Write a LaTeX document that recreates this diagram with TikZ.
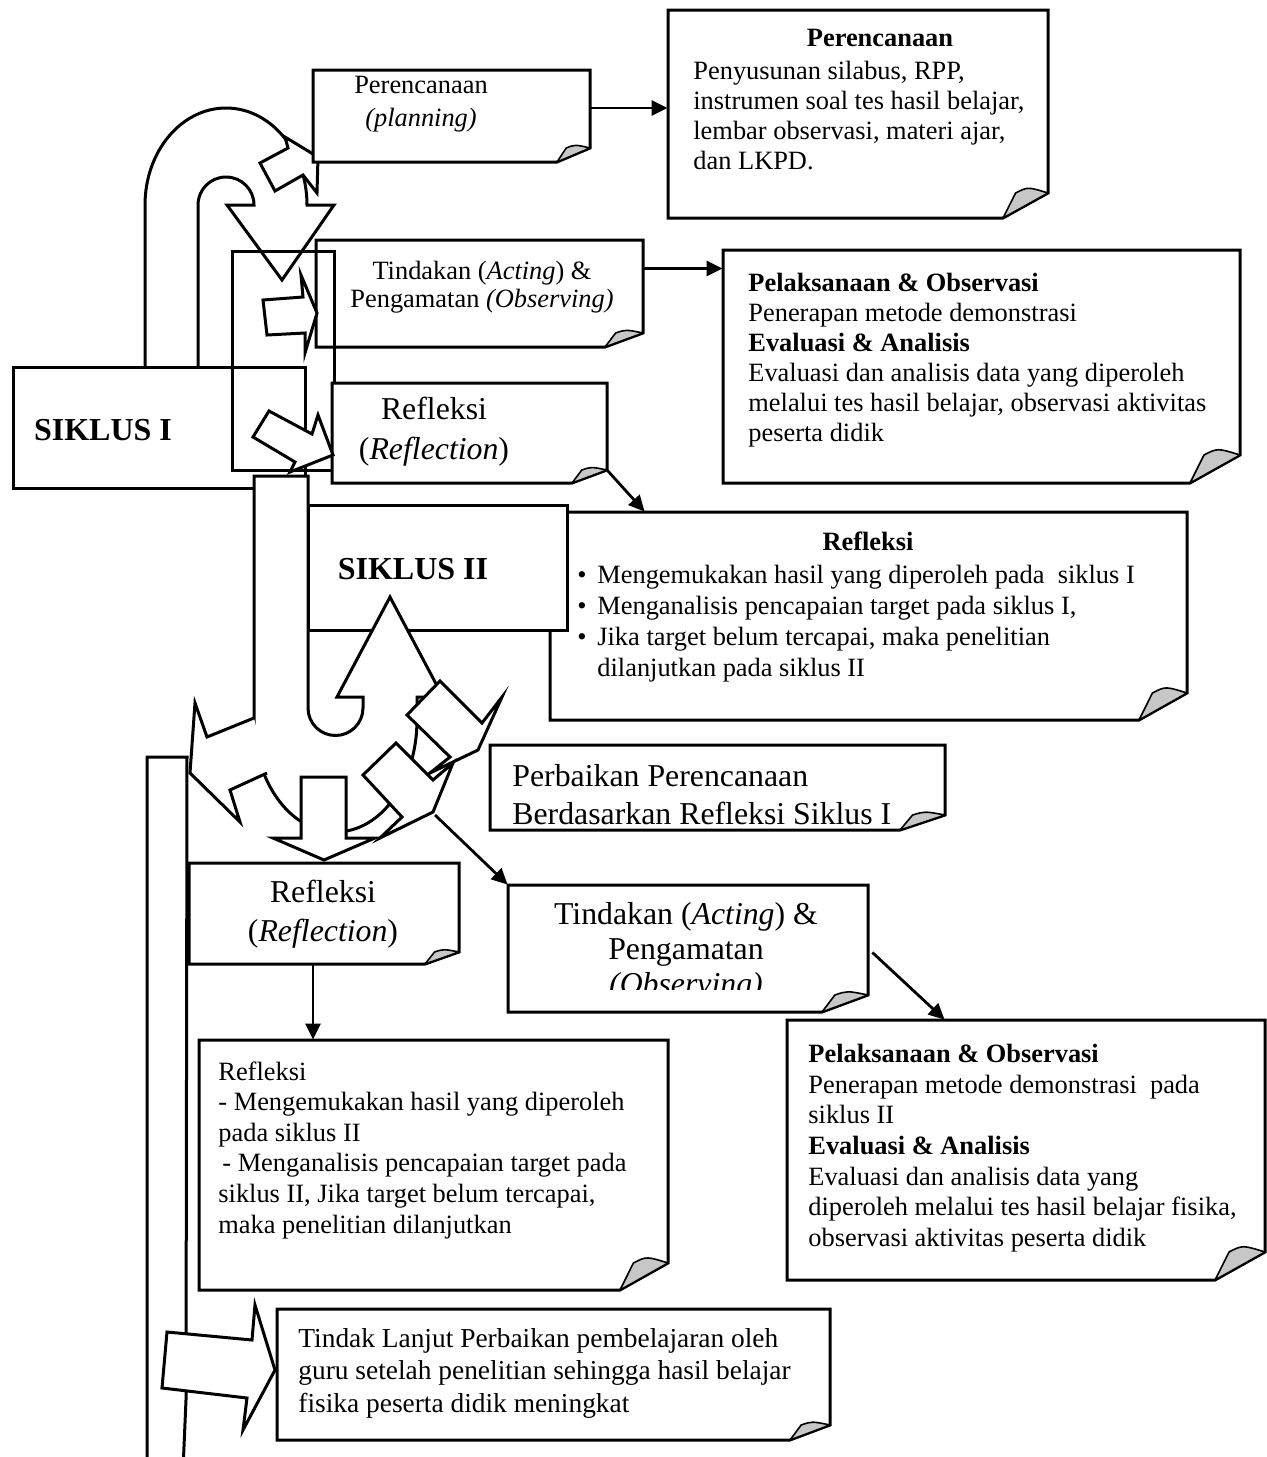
\documentclass[tikz,border=0pt]{standalone}
\usepackage{fontspec}
\setmainfont{Liberation Serif}
\usetikzlibrary{arrows.meta,fit}
\newcommand\fsN{\fontsize{13.2}{15.3}\selectfont}
\newcommand\fsB{\fontsize{15.9}{19.5}\selectfont}
\newcommand\fsS{\fontsize{16}{19}\selectfont\bfseries}
\newcommand\bl{\makebox[10pt][l]{\textbullet}}
\newcommand\foldbox[7]{%
  \path[bx] (#2,#3) -- (#4,#3) -- (#4,{#5-#6}) -- ({#4-#7},#5) -- (#2,#5) -- cycle;
  \path[curl] ({#4-#7},#5) -- ({#4-0.72*#7},{#5-#6}) .. controls ({#4-0.45*#7},{#5-1.25*#6}) .. (#4,{#5-#6}) -- cycle;
  \coordinate (#1-nw) at (#2,#3); \coordinate (#1-se) at (#4,#5);
  \node[fit=(#1-nw)(#1-se),inner sep=0pt] (#1) {};}
\newcommand\plainbox[5]{%
  \path[bx] (#2,#3) rectangle (#4,#5);
  \coordinate (#1-nw) at (#2,#3); \coordinate (#1-se) at (#4,#5);
  \node[fit=(#1-nw)(#1-se),inner sep=0pt] (#1) {};}
\begin{document}
\begin{tikzpicture}[x=0.5pt,y=-0.5pt,line join=miter,
  bx/.style={draw,line width=1.5pt,fill=white},
  onl/.style={draw,line width=1.5pt},
  blk/.style={draw,line width=1.5pt,fill=white},
  curl/.style={draw,line width=0.8pt,fill=black!22,line join=round},
  con/.style={draw,line width=1.4pt,-{Triangle[length=8pt,width=7.5pt]}},
  tx/.style={inner sep=0pt,font=\fsN,align=left,anchor=north west},
  txc/.style={inner sep=0pt,font=\fsN,align=center,anchor=north}]
\useasboundingbox (0,0) rectangle (1266,1457);

% tall left frame
\path[onl] (147,1470) -- (147,757) -- (187,757) -- (186,1400) -- (183,1470);

% top U-turn arrow
\path[blk] (145,367) -- (145,205) .. controls (145,151.4) and (181.3,108) .. (226,108)
  .. controls (270.7,108) and (307,151.4) .. (307,205) -- (334,205) -- (282,280) -- (227,205) -- (254,205)
  .. controls (254,189.5) and (241.5,177) .. (226,177) .. controls (210.5,177) and (198,189.5) .. (198,205) -- (198,367);
% small arrow towards planning box (mostly hidden)
\path[blk] (260,163) -- (288,148) -- (285,137) -- (318,157) -- (317,193) -- (303,175) -- (275,191) -- cycle;

\foldbox{pl}{313}{70}{590}{162}{14}{33}
\foldbox{Pp}{668}{10}{1048}{218}{25}{45}
\plainbox{s1}{13}{367}{305}{488}
\foldbox{ta}{316}{240}{643}{347}{14}{38}
\path[onl] (232,251) rectangle (334,470);
\path[blk] (263,300) -- (303,297) -- (301,275) -- (317,313) -- (305,353) -- (305,333) -- (267,335) -- cycle;
\foldbox{ra}{332}{383}{607}{483}{13}{35}
\foldbox{pa}{723}{250}{1240}{483}{28}{50}
\path[blk] (253,437) -- (269,411) -- (312,434) -- (318,415) -- (333,455) -- (290,472) -- (295,462) -- cycle;

\foldbox{rb}{550}{512}{1187}{720}{27}{48}
\plainbox{s2}{308}{505}{567}{630}

% J-shaped arrow
\path[blk] (254,476) -- (308,476) -- (308,708) .. controls (308,723.2) and (320.3,735.5) .. (335.5,735.5)
  .. controls (350.7,735.5) and (363,723.2) .. (363,708) -- (363,697) -- (337,697) -- (390,597) -- (443,697)
  -- (417,697) -- (417,720) .. controls (417,781.9) and (381,832) .. (335.5,832)
  .. controls (290.5,832) and (254,781.9) .. (254,720) -- cycle;
% left arrow
\path[blk] (254,718) -- (207,737) -- (195,703) -- (190,773) -- (240,822) -- (230,790) -- (267,773);
% down arrow
\path[blk] (301,777) -- (346,777) -- (346,838) -- (375,838) -- (324,860) -- (273,838) -- (301,838) -- cycle;
% diagonal arrows
\path[blk] (407,715) -- (440,681) -- (482,723) -- (502,697) -- (478,750) -- (430,773) -- (450,757) -- cycle;
\path[blk] (363,775) -- (396,743) -- (433,780) -- (453,763) -- (433,812) -- (380,838) -- (402,817) -- cycle;
\coordinate (bt) at (435,815);

\foldbox{pb}{490}{745}{945}{830}{15}{45}
\foldbox{tb}{508}{885}{868}{1012}{17}{46}
\foldbox{pc}{787}{1020}{1265}{1280}{28}{50}
\foldbox{rc}{189}{863}{459}{964}{12}{34}
\foldbox{rd}{199}{1040}{668}{1290}{27}{48}
\foldbox{tl}{277}{1309}{830}{1440}{15}{40}

% bottom arrow
\path[blk] (167,1332) -- (252,1340) -- (255,1305) -- (275,1370) -- (243,1430) -- (247,1398) -- (162,1388) -- cycle;

% texts
\node[txc] (tpl) at (421,76) {Perencanaan\\[1pt]\textit{(planning)}};
\node[inner sep=0pt,font=\fsN\bfseries] (tPpt) at (880,38) {Perencanaan};
\node[tx,font=\fontsize{13.2}{15}\selectfont] (tPp) at (693,61) {Penyusunan silabus, RPP,\\instrumen soal tes hasil belajar,\\lembar observasi, materi ajar,\\dan LKPD.};
\node[txc,font=\fontsize{13.2}{14}\selectfont] (tta) at (482,261) {Tindakan (\textit{Acting}) \&\\Pengamatan \textit{(Observing)}};
\node[tx,font=\fontsize{13.2}{15}\selectfont] (tpa) at (748,273) {\textbf{Pelaksanaan \& Observasi}\\Penerapan metode demonstrasi\\\textbf{Evaluasi \& Analisis}\\Evaluasi dan analisis data yang diperoleh\\melalui tes hasil belajar, observasi aktivitas\\peserta didik};
\node[txc,font=\fontsize{15.9}{20}\selectfont] (tra) at (434,397) {Refleksi\\(\textit{Reflection})};
\node[inner sep=0pt,font=\fsN\bfseries] (trbt) at (868,541) {Refleksi};
\node[tx,font=\fontsize{13.2}{15.5}\selectfont] (trb) at (577,565) {\bl Mengemukakan hasil yang diperoleh pada\ \ siklus I\\\bl Menganalisis pencapaian target pada siklus I,\\\bl Jika target belum tercapai, maka penelitian\\\hspace*{10pt}dilanjutkan pada siklus II};
\node[inner sep=0pt,font=\fsS] (ts1) at (103,430) {SIKLUS I};
\node[inner sep=0pt,font=\fsS] (ts2) at (413,569) {SIKLUS II};
\node[tx,font=\fontsize{15.9}{19}\selectfont] (tpb) at (512,764) {Perbaikan Perencanaan\\Berdasarkan Refleksi Siklus I};
\begin{scope}
\clip (508,885) rectangle (868,989);
\node[txc,font=\fontsize{15.9}{17.5}\selectfont] (ttb) at (686,902) {Tindakan (\textit{Acting}) \&\\Pengamatan\\\textit{(Observing)}};
\end{scope}
\node[tx,font=\fontsize{13.2}{15.3}\selectfont] (tpc) at (808,1044) {\textbf{Pelaksanaan \& Observasi}\\Penerapan metode demonstrasi\ \ pada\\siklus II\\\textbf{Evaluasi \& Analisis}\\Evaluasi dan analisis data yang\\diperoleh melalui tes hasil belajar fisika,\\observasi aktivitas peserta didik};
\node[txc,font=\fontsize{15.9}{19.5}\selectfont] (trc) at (323,880) {Refleksi\\(\textit{Reflection})};
\node[tx,font=\fontsize{13.2}{15.3}\selectfont] (trd) at (218,1061) {Refleksi\\- Mengemukakan hasil yang diperoleh\\pada siklus II\\\hspace*{2pt}- Menganalisis pencapaian target pada\\siklus II, Jika target belum tercapai,\\maka penelitian dilanjutkan};
\node[tx,font=\fontsize{13.7}{16.25}\selectfont] (ttl) at (298,1328) {Tindak Lanjut Perbaikan pembelajaran oleh\\guru setelah penelitian sehingga hasil belajar\\fisika peserta didik meningkat};

% connectors
\draw[con] ([yshift=4pt]pl.east) -- ([yshift=4pt]pl.east -| Pp.west);
\draw[con] ([yshift=12.5pt]ta.east) -- ([yshift=12.5pt]ta.east -| pa.west);
\draw[con] ([yshift=6.5pt]ra.south east) -- ([xshift=47.5pt]rb.north west);
\draw[con] (bt) -- (tb.north west);
\draw[con] ([xshift=2pt,yshift=-2pt]tb.east) -- ([xshift=79pt]pc.north west);
\draw[con] ([xshift=-5.5pt]rc.south) -- ([xshift=-5.5pt]rc.south |- rd.north);
\end{tikzpicture}
\end{document}
